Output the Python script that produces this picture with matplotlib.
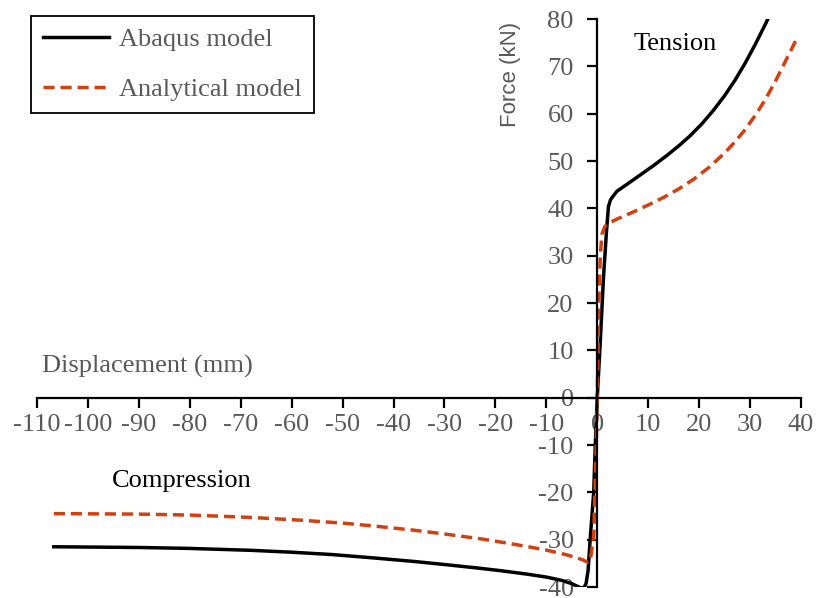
import matplotlib
matplotlib.use('Agg')
import matplotlib.pyplot as plt

plt.rcParams['font.family'] = ['Liberation Serif', 'DejaVu Serif']
plt.rcParams['axes.unicode_minus'] = False

# Abaqus model
abaqus_x = [-106.7, -90, -80, -68, -60, -52, -44, -36, -30, -23, -19, -14, -10, -7, -5,
            -4, -3.2, -2.6, -2.2, -1.8, -1.4, -0.7, -0.4, 0, 0.6, 1.2, 1.8, 2.2, 2.6,
            3.2, 3.85, 6, 8.5, 11, 13.7, 16, 18.3, 20.5, 22.8, 25, 27, 29, 31, 33, 33.8]
abaqus_y = [-31.5, -31.65, -31.85, -32.25, -32.65, -33.15, -33.85, -34.6, -35.25, -36.05,
            -36.55, -37.25, -37.9, -38.6, -39.3, -39.8, -40.2, -40.1, -39.3, -36.5, -30,
            -20, -10.3, 0, 12, 25, 35, 40.4, 41.8, 42.7, 43.6, 45.2, 47.1, 49.0, 51.2,
            53.2, 55.4, 57.8, 60.7, 63.8, 67.0, 70.6, 74.6, 78.9, 80.7]

# Analytical model
analytical_x = [-106.7, -90, -80, -68, -58, -50, -44, -36, -30, -23, -19, -14, -10, -6, -3,
                -1.8, -1.4, -0.7, -0.2, 0, 0.3, 0.6, 0.9, 1.5, 2.5, 4, 7, 10, 13, 16, 19,
                22, 25, 27, 29, 31, 33, 35, 37, 39.2]
analytical_y = [-24.5, -24.6, -24.8, -25.3, -25.9, -26.5, -27.1, -28.0, -28.8, -29.8, -30.5,
                -31.4, -32.2, -33.2, -34.2, -34.8, -34.6, -29.3, -10.3, 0, 20, 30, 34.5,
                36.2, 37.0, 37.8, 39.2, 40.7, 42.3, 44.1, 46.2, 48.7, 51.7, 54.0, 56.6,
                59.6, 63.0, 66.9, 71.2, 75.9]

x_ticks = list(range(-110, 41, 10))
y_ticks = list(range(-40, 81, 10))

gray = '#595959'
red = '#D04010'

fig = plt.figure(figsize=(8.16, 5.98), dpi=100)
ax = fig.add_axes([37 / 816, 1 - 587 / 598, (801 - 37) / 816, (587 - 19) / 598])

ax.plot(abaqus_x, abaqus_y, color='black', lw=2.5, label='Abaqus model',
        solid_joinstyle='round')
ax.plot(analytical_x, analytical_y, color=red, lw=2.5, linestyle=(0, (3.2, 1.7)),
        label='Analytical model')

ax.set_xlim(-110, 40)
ax.set_ylim(-40, 80)
ax.set_xticks(x_ticks)
ax.set_yticks(y_ticks)

for s in ['top', 'right']:
    ax.spines[s].set_visible(False)
ax.spines['left'].set_position(('data', 0))
ax.spines['bottom'].set_position(('data', 0))
for s in ['left', 'bottom']:
    ax.spines[s].set_linewidth(1.6)
    ax.spines[s].set_color('black')

ax.tick_params(axis='x', direction='out', length=7, width=1.6, labelsize=19,
               labelcolor=gray, pad=5)
ax.tick_params(axis='y', direction='out', length=7, width=1.6, labelsize=19,
               labelcolor=gray, pad=10)

ax.text(-109, 6.6, 'Displacement (mm)', fontsize=19, color=gray, ha='left', va='center')
ax.text(-17.1, 68.3, 'Force (kN)', fontsize=16, color=gray, ha='center', va='center',
        rotation=90, family=['Liberation Sans', 'DejaVu Sans'])
ax.text(15.3, 74.8, 'Tension', fontsize=19, color='black', ha='center', va='center')
ax.text(-81.5, -17.5, 'Compression', fontsize=19, color='black', ha='center', va='center')

leg = ax.legend(loc='upper left', bbox_to_anchor=(31 / 816, 1 - 16 / 598),
                bbox_transform=fig.transFigure, borderaxespad=0, fontsize=19,
                handlelength=2.5, handletextpad=0.4, fancybox=False, framealpha=1,
                labelcolor=gray, borderpad=0.45, labelspacing=1.0)
leg.get_frame().set_edgecolor('black')
leg.get_frame().set_linewidth(1.3)

fig.savefig('out.png', dpi=100)
